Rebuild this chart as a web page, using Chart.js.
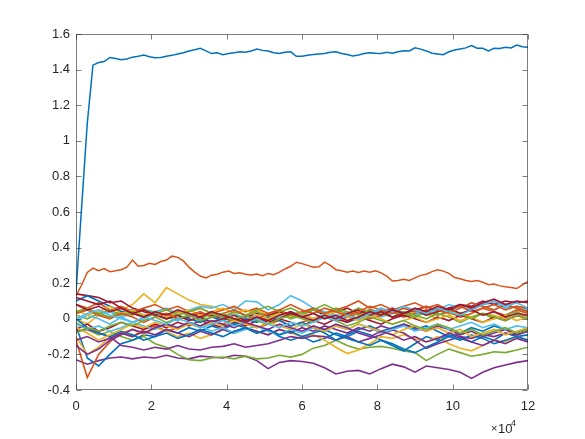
<!DOCTYPE html>
<html>
<head>
<meta charset="utf-8">
<script src="https://cdn.jsdelivr.net/npm/chart.js@4"></script>
<style>
  html, body { margin: 0; padding: 0; background: #fff; }
  #wrap { width: 585px; height: 439px; }
</style>
</head>
<body>
<div id="wrap"><canvas id="chart" width="585" height="439"></canvas></div>
<script>
// sample spacing (x units)
var fineStep = 1500;    // the two long runs
var coarseStep = 3000;  // the 26 runs in the band around zero

var xTickValues = [0, 20000, 40000, 60000, 80000, 100000, 120000];
var yTickValues = [-0.4, -0.2, 0, 0.2, 0.4, 0.6, 0.8, 1, 1.2, 1.4, 1.6];

// MATLAB default colour order
var lineColors = ['#0072BD', '#D95319', '#EDB120', '#7E2F8E', '#77AC30', '#4DBEEE', '#A2142F'];

var blueTop = [0.15,0.63,1.10,1.425,1.44,1.445,1.468,1.462,1.455,1.46,
  1.47,1.475,1.482,1.472,1.466,1.468,1.475,1.48,1.488,1.495,
  1.505,1.512,1.52,1.505,1.49,1.495,1.484,1.49,1.495,1.5,
  1.498,1.505,1.515,1.508,1.505,1.495,1.49,1.498,1.50,1.475,
  1.475,1.48,1.485,1.488,1.49,1.497,1.50,1.49,1.485,1.476,
  1.482,1.49,1.495,1.492,1.49,1.497,1.492,1.50,1.506,1.505,
  1.522,1.515,1.505,1.492,1.488,1.484,1.50,1.51,1.516,1.522,
  1.535,1.52,1.52,1.505,1.52,1.518,1.525,1.522,1.538,1.528,
  1.525];

var orangeTop = [0.13,0.19,0.26,0.285,0.27,0.282,0.265,0.27,0.276,0.29,
  0.33,0.295,0.3,0.312,0.305,0.322,0.33,0.352,0.345,0.325,
  0.29,0.262,0.24,0.23,0.245,0.25,0.262,0.268,0.255,0.258,
  0.25,0.246,0.252,0.242,0.255,0.248,0.262,0.28,0.295,0.318,
  0.31,0.3,0.29,0.292,0.318,0.3,0.276,0.27,0.262,0.268,
  0.26,0.268,0.262,0.27,0.258,0.24,0.212,0.215,0.222,0.215,
  0.23,0.244,0.25,0.265,0.275,0.268,0.255,0.232,0.225,0.215,
  0.21,0.215,0.205,0.192,0.195,0.185,0.18,0.176,0.17,0.19,
  0.21];

// band runs, in plotting order (colour cycles from yellow)
var yellow1 = [0.0,-0.03,0.02,0.01,0.05,0.08,0.14,0.09,0.175,0.14,
  0.105,0.08,0.07,0.05,0.065,0.04,0.05,0.02,0.035,0.01,
  0.03,0.0,0.02,-0.01,0.01,0.0,0.03,0.02,0.045,0.02,
  0.04,0.03,0.0,0.02,0.035,0.01,0.03,0.02,0.0,0.015,
  0.02];
var purple1 = [-0.23,-0.255,-0.235,-0.22,-0.215,-0.225,-0.215,-0.22,-0.205,-0.22,
  -0.225,-0.21,-0.215,-0.22,-0.205,-0.21,-0.235,-0.28,-0.245,-0.235,
  -0.24,-0.25,-0.275,-0.31,-0.295,-0.29,-0.31,-0.28,-0.255,-0.27,
  -0.3,-0.265,-0.275,-0.285,-0.3,-0.335,-0.3,-0.275,-0.26,-0.245,
  -0.235];
var green1 = [-0.02,-0.06,-0.09,-0.07,-0.1,-0.12,-0.1,-0.14,-0.16,-0.2,
  -0.23,-0.235,-0.22,-0.215,-0.225,-0.21,-0.225,-0.22,-0.205,-0.215,
  -0.2,-0.165,-0.15,-0.12,-0.15,-0.17,-0.16,-0.155,-0.165,-0.18,
  -0.19,-0.235,-0.2,-0.17,-0.19,-0.21,-0.2,-0.185,-0.19,-0.175,
  -0.16];
var cyan1 = [0.03,0.05,0.02,0.04,0.01,0.03,0.05,0.04,0.06,0.03,
  0.05,0.07,0.06,0.08,0.05,0.1,0.095,0.05,0.08,0.13,
  0.1,0.06,0.04,0.02,0.03,0.0,0.02,0.01,0.03,0.04,
  0.02,0.05,0.06,0.04,0.07,0.05,0.08,0.09,0.06,0.07,
  0.05];
var red1 = [0.14,0.13,0.12,0.09,0.1,0.06,0.04,0.02,0.03,0.0,
  0.01,0.03,0.02,0.0,-0.01,0.01,0.03,0.02,0.04,0.01,
  0.03,0.05,0.02,0.04,0.06,0.03,0.05,0.04,0.06,0.03,
  0.05,0.07,0.04,0.06,0.08,0.07,0.1,0.08,0.1,0.09,
  0.1];
var blue2 = [-0.04,-0.22,-0.265,-0.2,-0.14,-0.12,-0.09,-0.1,-0.06,-0.08,
  -0.05,-0.07,-0.04,-0.06,-0.03,-0.05,-0.08,-0.06,-0.1,-0.12,
  -0.1,-0.13,-0.11,-0.08,-0.1,-0.07,-0.09,-0.12,-0.15,-0.18,
  -0.14,-0.1,-0.12,-0.09,-0.11,-0.13,-0.1,-0.12,-0.08,-0.1,
  -0.09];
var orange2 = [-0.12,-0.33,-0.2,-0.13,-0.08,-0.1,-0.06,-0.04,-0.07,-0.05,
  -0.02,-0.04,-0.01,-0.03,0.0,-0.02,-0.05,-0.03,-0.01,-0.04,
  -0.02,0.0,0.02,-0.01,0.01,0.03,0.0,0.02,0.04,0.01,
  0.03,0.05,0.02,0.04,0.01,0.03,0.06,0.04,0.02,0.05,
  0.03];
var yellow2 = [-0.1,-0.2,-0.16,-0.1,-0.08,-0.06,-0.09,-0.05,-0.07,-0.1,
  -0.08,-0.11,-0.09,-0.06,-0.08,-0.05,-0.07,-0.09,-0.06,-0.08,
  -0.1,-0.09,-0.12,-0.16,-0.195,-0.175,-0.14,-0.1,-0.11,-0.09,
  -0.11,-0.13,-0.1,-0.14,-0.165,-0.18,-0.15,-0.12,-0.13,-0.1,
  -0.12];
var purple2 = [-0.07,-0.06,-0.08,-0.1,-0.15,-0.16,-0.175,-0.16,-0.17,-0.15,
  -0.17,-0.175,-0.16,-0.155,-0.14,-0.16,-0.15,-0.14,-0.12,-0.1,
  -0.11,-0.095,-0.1,-0.12,-0.1,-0.13,-0.11,-0.09,-0.063,-0.08,
  -0.12,-0.166,-0.14,-0.12,-0.1,-0.11,-0.09,-0.1,-0.08,-0.09,
  -0.07];
var green2 = [0.02,0.0,0.03,0.01,0.04,0.02,0.05,0.03,0.01,0.04,
  0.02,0.0,0.03,0.01,-0.01,0.02,0.04,0.01,0.03,0.0,
  0.02,0.05,0.03,0.06,0.04,0.02,0.05,0.03,0.01,0.04,
  0.02,0.0,0.03,0.01,-0.02,0.01,0.03,0.0,0.02,0.04,
  0.01];
var cyan2 = [-0.01,0.02,0.0,-0.03,0.01,-0.02,0.0,0.03,0.01,-0.01,
  0.02,0.0,-0.02,0.01,0.03,0.0,0.02,-0.01,0.01,0.04,
  0.02,0.0,0.03,0.01,-0.02,0.0,0.02,0.05,0.03,0.06,
  0.04,0.02,0.05,0.08,0.06,0.09,0.07,0.05,0.08,0.06,
  0.04];
var red2 = [-0.06,-0.03,-0.07,-0.05,-0.02,-0.04,-0.06,-0.03,-0.05,-0.02,
  -0.04,-0.01,-0.03,-0.05,-0.02,-0.04,-0.01,-0.03,0.0,-0.02,
  -0.04,-0.01,-0.03,0.0,-0.02,0.01,-0.01,-0.03,0.0,0.02,
  0.0,-0.02,0.01,-0.01,0.02,0.0,-0.02,0.01,-0.01,0.02,
  0.0];
var blue3 = [0.1,0.13,0.1,0.07,0.04,0.05,0.02,0.03,0.0,0.02,
  0.0,-0.02,0.01,-0.01,-0.03,0.0,-0.02,0.01,-0.01,-0.04,
  -0.02,-0.05,-0.08,-0.12,-0.09,-0.06,-0.04,-0.07,-0.05,-0.03,
  -0.06,-0.04,-0.07,-0.1,-0.08,-0.05,-0.07,-0.04,-0.06,-0.08,
  -0.05];
var orange3 = [0.08,0.06,0.09,0.05,0.07,0.04,0.06,0.08,0.05,0.07,
  0.04,0.06,0.03,0.05,0.07,0.04,0.06,0.03,0.05,0.02,
  0.04,0.06,0.03,0.05,0.07,0.1,0.06,0.08,0.05,0.07,
  0.09,0.06,0.08,0.05,0.07,0.04,0.06,0.08,0.05,0.07,
  0.06];
var yellow3 = [0.05,0.02,0.04,0.07,0.03,0.05,0.02,0.04,0.01,0.03,
  0.05,0.02,0.04,0.06,0.03,0.05,0.02,0.0,0.03,0.01,
  0.03,0.0,0.02,0.04,0.01,-0.01,0.02,0.0,-0.03,-0.01,
  0.01,-0.02,0.0,0.02,-0.01,0.01,-0.02,0.0,0.02,-0.01,
  0.01];
var purple3 = [-0.12,-0.1,-0.13,-0.11,-0.08,-0.1,-0.07,-0.09,-0.06,-0.08,
  -0.1,-0.07,-0.09,-0.06,-0.08,-0.05,-0.07,-0.09,-0.06,-0.08,
  -0.05,-0.07,-0.04,-0.06,-0.08,-0.05,-0.07,-0.04,-0.06,-0.03,
  -0.05,-0.07,-0.04,-0.06,-0.09,-0.07,-0.1,-0.08,-0.06,-0.09,
  -0.07];
var green3 = [0.04,0.06,0.03,0.05,0.02,0.04,0.01,0.03,0.05,0.02,
  0.04,0.06,0.03,0.01,0.04,0.02,0.05,0.07,0.04,0.06,
  0.03,0.05,0.08,0.05,0.03,0.06,0.04,0.02,0.05,0.03,
  0.01,0.04,0.02,0.05,0.03,0.0,0.03,0.01,-0.01,0.02,
  0.0];
var cyan3 = [-0.03,-0.06,-0.04,-0.07,-0.05,-0.02,-0.04,-0.06,-0.03,-0.05,
  -0.02,-0.04,-0.07,-0.05,-0.08,-0.06,-0.04,-0.07,-0.09,-0.06,
  -0.08,-0.05,-0.07,-0.04,-0.06,-0.03,-0.05,-0.08,-0.06,-0.04,
  -0.07,-0.05,-0.03,-0.06,-0.04,-0.02,-0.05,-0.03,-0.06,-0.04,
  -0.05];
var red3 = [0.12,0.1,0.08,0.1,0.06,0.03,0.05,0.02,0.0,0.02,
  -0.01,0.01,-0.02,0.0,0.02,-0.01,0.01,-0.02,0.0,0.03,
  0.01,-0.01,0.02,0.0,0.03,0.05,0.02,0.04,0.01,0.03,
  0.05,0.02,0.04,0.06,0.03,0.05,0.02,0.04,0.01,0.03,
  0.02];
var blue4 = [0.0,-0.05,-0.08,-0.1,-0.07,-0.09,-0.12,-0.1,-0.08,-0.11,
  -0.09,-0.06,-0.08,-0.1,-0.07,-0.05,-0.08,-0.06,-0.09,-0.07,
  -0.1,-0.08,-0.06,-0.09,-0.11,-0.13,-0.15,-0.12,-0.14,-0.17,
  -0.19,-0.16,-0.13,-0.1,-0.12,-0.09,-0.11,-0.14,-0.12,-0.1,
  -0.12];
var orange4 = [0.03,0.05,0.02,0.0,0.03,0.01,-0.02,0.01,0.03,0.0,
  0.02,0.04,0.01,0.03,0.05,0.02,0.0,0.03,0.05,0.08,
  0.05,0.03,0.06,0.04,0.02,0.04,0.07,0.05,0.03,0.06,
  0.04,0.07,0.05,0.03,0.06,0.09,0.07,0.05,0.08,0.06,
  0.04];
var yellow4 = [-0.05,-0.08,-0.12,-0.09,-0.06,-0.03,-0.05,-0.02,-0.04,-0.06,
  -0.03,-0.05,-0.02,-0.04,-0.01,-0.03,-0.05,-0.02,-0.04,-0.06,
  -0.03,-0.05,-0.07,-0.04,-0.06,-0.03,-0.05,-0.07,-0.09,-0.06,
  -0.04,-0.07,-0.05,-0.08,-0.06,-0.1,-0.08,-0.06,-0.09,-0.07,
  -0.05];
var purple4 = [-0.15,-0.2,-0.17,-0.12,-0.09,-0.06,-0.08,-0.05,-0.03,-0.05,
  -0.02,-0.04,-0.01,-0.03,-0.05,-0.02,-0.04,-0.06,-0.03,-0.05,
  -0.07,-0.04,-0.06,-0.03,-0.05,-0.08,-0.1,-0.07,-0.09,-0.12,
  -0.1,-0.13,-0.11,-0.08,-0.1,-0.13,-0.15,-0.12,-0.14,-0.11,
  -0.13];
var green4 = [-0.08,-0.05,-0.07,-0.04,-0.02,-0.04,-0.01,0.01,-0.02,0.0,
  0.02,-0.01,0.01,0.03,0.0,0.02,-0.01,-0.03,0.0,0.02,
  0.0,-0.02,0.01,-0.01,-0.04,-0.02,0.01,-0.01,-0.03,-0.01,
  -0.04,-0.06,-0.03,-0.05,-0.08,-0.06,-0.09,-0.07,-0.05,-0.08,
  -0.06];
var cyan4 = [0.0,0.03,0.05,0.02,0.0,-0.02,0.01,-0.01,-0.03,0.0,
  -0.02,-0.05,-0.03,-0.01,-0.04,-0.02,0.0,-0.03,-0.05,-0.02,
  -0.04,-0.02,0.01,-0.01,0.02,0.0,0.03,0.06,0.04,0.07,
  0.05,0.03,0.06,0.04,0.02,0.05,0.08,0.1,0.07,0.09,
  0.06];
var red4 = [0.08,0.05,0.07,0.04,0.06,0.03,0.01,0.04,0.02,0.05,
  0.03,0.01,0.04,0.02,0.0,-0.02,0.01,-0.01,0.02,0.04,
  0.01,0.03,0.0,0.02,-0.01,0.01,0.04,0.02,0.05,0.03,
  0.06,0.04,0.07,0.05,0.08,0.06,0.09,0.11,0.08,0.1,
  0.09];

var allRuns = [
  [blueTop, fineStep], [orangeTop, fineStep],
  [yellow1, coarseStep], [purple1, coarseStep], [green1, coarseStep], [cyan1, coarseStep], [red1, coarseStep],
  [blue2, coarseStep], [orange2, coarseStep], [yellow2, coarseStep], [purple2, coarseStep], [green2, coarseStep], [cyan2, coarseStep], [red2, coarseStep],
  [blue3, coarseStep], [orange3, coarseStep], [yellow3, coarseStep], [purple3, coarseStep], [green3, coarseStep], [cyan3, coarseStep], [red3, coarseStep],
  [blue4, coarseStep], [orange4, coarseStep], [yellow4, coarseStep], [purple4, coarseStep], [green4, coarseStep], [cyan4, coarseStep], [red4, coarseStep]
];

var datasets = [];
for (var i = 0; i < allRuns.length; ++i) {
  var vals = allRuns[i][0];
  var step = allRuns[i][1];
  var pts = [];
  for (var k = 0; k < vals.length; ++k) {
    pts.push({x: k * step, y: vals[k]});
  }
  datasets.push({
    data: pts,
    borderColor: lineColors[i % lineColors.length],
    borderWidth: (i < 2) ? 1.5 : 1.6,
    pointRadius: 0,
    tension: 0,
    fill: false,
    order: allRuns.length - i   // later lines on top, as in MATLAB
  });
}

var axisColor = '#262626';

// box with inward ticks on all four sides, plus the x exponent
var matlabAxes = {
  id: 'matlabAxes',
  afterDraw: function (chart) {
    var ctx = chart.ctx;
    var a = chart.chartArea;
    var xs = chart.scales.x, ys = chart.scales.y;
    var L = Math.round(a.left) + 0.5, R = Math.round(a.right) - 0.5;
    var T = Math.round(a.top) + 0.5, B = Math.round(a.bottom) - 0.5;
    var len = 5;
    ctx.save();
    ctx.strokeStyle = 'rgba(38,38,38,0.6)';
    ctx.lineWidth = 1;
    ctx.beginPath();
    ctx.rect(L, T, R - L, B - T);
    xTickValues.forEach(function (v) {
      var px = Math.round(xs.getPixelForValue(v)) + 0.5;
      ctx.moveTo(px, B); ctx.lineTo(px, B - len);
      ctx.moveTo(px, T); ctx.lineTo(px, T + len);
    });
    yTickValues.forEach(function (v) {
      var py = Math.round(ys.getPixelForValue(v)) + 0.5;
      ctx.moveTo(L, py); ctx.lineTo(L + len, py);
      ctx.moveTo(R, py); ctx.lineTo(R - len, py);
    });
    ctx.stroke();

    ctx.fillStyle = axisColor;
    ctx.textBaseline = 'alphabetic';
    ctx.textAlign = 'left';
    ctx.font = '11px "Liberation Sans", Arial, sans-serif';
    ctx.fillText('\u00d7', 491, 432);
    ctx.font = '13px "Liberation Sans", Arial, sans-serif';
    ctx.fillText('10', 498, 433);
    ctx.font = '9px "Liberation Sans", Arial, sans-serif';
    ctx.fillText('4', 511, 426);
    ctx.restore();
  }
};

new Chart(document.getElementById('chart'), {
  type: 'line',
  data: { datasets: datasets },
  plugins: [matlabAxes],
  options: {
    responsive: false,
    animation: false,
    events: [],
    layout: { padding: { left: 0, right: 57, top: 34, bottom: 0 } },
    plugins: { legend: { display: false }, tooltip: { enabled: false } },
    scales: {
      x: {
        type: 'linear',
        min: 0,
        max: 120000,
        afterBuildTicks: function (scale) {
          scale.ticks = xTickValues.map(function (v) { return {value: v}; });
        },
        afterFit: function (scale) { scale.height = 49; },
        grid: { display: false, drawTicks: false },
        border: { display: false },
        ticks: {
          padding: 9,
          maxRotation: 0,
          color: axisColor,
          font: { family: '"Liberation Sans", Arial, sans-serif', size: 13 },
          callback: function (v) { return String(v / 10000); }
        }
      },
      y: {
        type: 'linear',
        min: -0.4,
        max: 1.6,
        afterBuildTicks: function (scale) {
          scale.ticks = yTickValues.map(function (v) { return {value: v}; });
        },
        afterFit: function (scale) { scale.width = 76; },
        grid: { display: false, drawTicks: false },
        border: { display: false },
        ticks: {
          padding: 6,
          color: axisColor,
          font: { family: '"Liberation Sans", Arial, sans-serif', size: 13 },
          callback: function (v) { return String(Math.round(v * 10) / 10); }
        }
      }
    }
  }
});
</script>
</body>
</html>
